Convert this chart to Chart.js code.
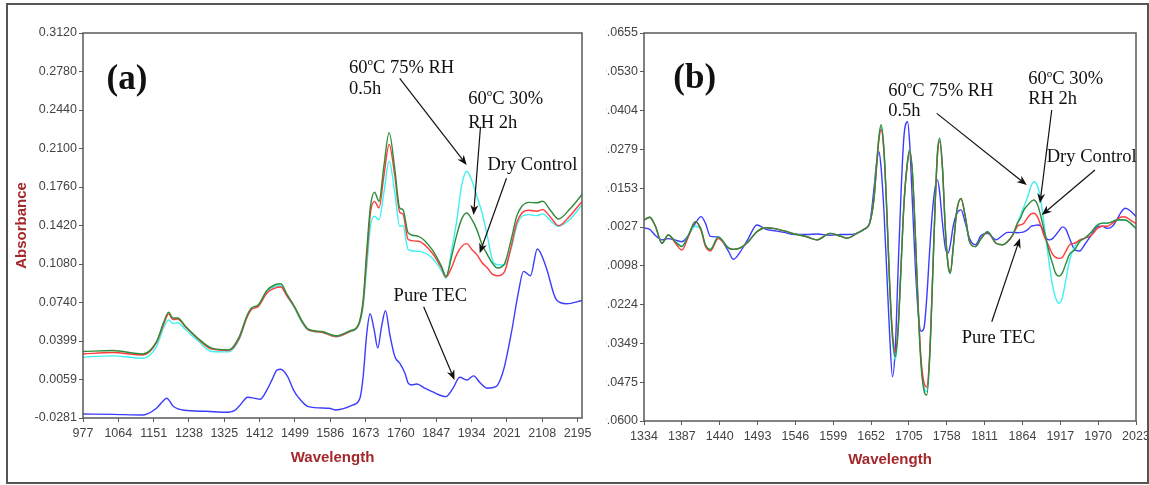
<!DOCTYPE html>
<html lang="en">
<head>
  <meta charset="UTF-8">
  <title>NIR spectra (a) and second derivative spectra (b)</title>
  <script src="https://cdn.jsdelivr.net/npm/chart.js"></script>
  <style>
    body {
      margin: 0;
      width: 1149px;
      height: 485px;
      background: #fff;
      position: relative;
      overflow: hidden;
    }
    #frame {
      position: absolute; left: 6px; top: 3px; width: 1143px; height: 481px;
      box-sizing: border-box; border: 2px solid #555; pointer-events: none; z-index: 5;
    }
    #boxA { position: absolute; left: 8px; top: 6px; }
    /* panel (b) is cropped on its left side, like the original figure */
    #clipB { position: absolute; left: 606px; top: 6px; width: 542px; height: 472px; overflow: hidden; }
    #boxB { position: absolute; left: -40px; top: 0; }
  </style>
</head>
<body>
  <div id="frame"></div>
  <canvas id="boxA" width="592" height="472"></canvas>
  <div id="clipB"><canvas id="boxB" width="584" height="472"></canvas></div>

  <script>
    // ---------- panel (a): absorbance spectra ----------
    const aXTicks = [977, 1064, 1151, 1238, 1325, 1412, 1499, 1586, 1673, 1760, 1847, 1934, 2021, 2108, 2195];
    const aYLabels = ['-0.0281', '0.0059', '0.0399', '0.0740', '0.1080', '0.1420', '0.1760', '0.2100', '0.2440', '0.2780', '0.3120'];

    const aWl = [977, 1050, 1124, 1158, 1175, 1188, 1198, 1210, 1230, 1260, 1294, 1336, 1362, 1380, 1392, 1409, 1430, 1450, 1464, 1480,
                 1498, 1515, 1532, 1566, 1600, 1634, 1655, 1667, 1676, 1685, 1695, 1706, 1718, 1731, 1745, 1757, 1765, 1778, 1803, 1837,
                 1860, 1871, 1885, 1897, 1910, 1922, 1935, 1947, 1960, 1973, 1985, 1998, 2015, 2032, 2045, 2058, 2075, 2095, 2109, 2130,
                 2148, 2175, 2206];
    // 60oC 30% RH 2h
    const aGreen = [0.0306, 0.0315, 0.0285, 0.0394, 0.0557, 0.0654, 0.0603, 0.0603, 0.0527, 0.0424, 0.0336, 0.0321, 0.0439, 0.0616, 0.0690, 0.0720, 0.0846, 0.0896, 0.0905, 0.0808,
                    0.0704, 0.0586, 0.0504, 0.0483, 0.0445, 0.0489, 0.0542, 0.0763, 0.1206, 0.1589, 0.1713, 0.1633, 0.1943, 0.2240, 0.1914, 0.1575, 0.1560, 0.1354, 0.1324, 0.1206,
                    0.1058, 0.0970, 0.1150, 0.1330, 0.1480, 0.1530, 0.1471, 0.1383, 0.1250, 0.1162, 0.1088, 0.1044, 0.1080, 0.1300, 0.1500, 0.1589, 0.1624, 0.1620, 0.1634, 0.1545,
                    0.1477, 0.1560, 0.1693];
    // Dry Control
    const aRed = [0.0285, 0.0297, 0.0276, 0.0385, 0.0540, 0.0640, 0.0589, 0.0594, 0.0521, 0.0418, 0.0327, 0.0315, 0.0424, 0.0601, 0.0677, 0.0705, 0.0823, 0.0867, 0.0876, 0.0793,
                  0.0698, 0.0580, 0.0498, 0.0477, 0.0439, 0.0483, 0.0536, 0.0734, 0.1137, 0.1530, 0.1633, 0.1575, 0.1855, 0.2135, 0.1855, 0.1537, 0.1520, 0.1294, 0.1280, 0.1177,
                  0.1044, 0.0964, 0.1050, 0.1160, 0.1235, 0.1259, 0.1206, 0.1162, 0.1090, 0.1044, 0.0990, 0.0976, 0.1010, 0.1240, 0.1442, 0.1530, 0.1554, 0.1546, 0.1560, 0.1486,
                  0.1418, 0.1500, 0.1633];
    // 60oC 75% RH 0.5h
    const aCyan = [0.0256, 0.0268, 0.0247, 0.0350, 0.0510, 0.0586, 0.0554, 0.0560, 0.0498, 0.0401, 0.0306, 0.0303, 0.0415, 0.0601, 0.0683, 0.0713, 0.0838, 0.0881, 0.0887, 0.0793,
                   0.0690, 0.0571, 0.0495, 0.0474, 0.0436, 0.0480, 0.0530, 0.0705, 0.1058, 0.1412, 0.1501, 0.1471, 0.1708, 0.1987, 0.1708, 0.1412, 0.1420, 0.1206, 0.1191, 0.1132,
                   0.1020, 0.0952, 0.1200, 0.1450, 0.1780, 0.1899, 0.1812, 0.1678, 0.1530, 0.1324, 0.1120, 0.1073, 0.1070, 0.1220, 0.1412, 0.1501, 0.1516, 0.1507, 0.1522, 0.1457,
                   0.1412, 0.1470, 0.1604];

    // Pure TEC
    const aWlTec = [977, 1050, 1124, 1158, 1172, 1183, 1200, 1226, 1280, 1328, 1350, 1362, 1383, 1398, 1413, 1430, 1443, 1455, 1464, 1481,
                    1495, 1506, 1532, 1583, 1600, 1642, 1659, 1667, 1676, 1684, 1694, 1703, 1712, 1722, 1733, 1745, 1757, 1770, 1778, 1786,
                    1799, 1820, 1837, 1862, 1871, 1888, 1905, 1922, 1939, 1955, 1973, 1994, 2005, 2015, 2032, 2049, 2062, 2079, 2096, 2117,
                    2143, 2168, 2206];
    const aTec = [-0.0246, -0.0249, -0.0254, -0.0195, -0.0140, -0.0107, -0.0180, -0.0213, -0.0222, -0.0230, -0.0215, -0.0175, -0.0098, -0.0105, -0.0116, -0.0033, 0.0060, 0.0144, 0.0150, 0.0085,
                  -0.0030, -0.0092, -0.0180, -0.0195, -0.0210, -0.0166, -0.0107, 0.0085, 0.0470, 0.0640, 0.0500, 0.0336, 0.0520, 0.0666, 0.0450, 0.0262, 0.0203, 0.0115, 0.0026, 0.0011,
                  0.0019, -0.0020, -0.0048, -0.0087, -0.0092, -0.0020, 0.0079, 0.0055, 0.0091, 0.0030, -0.0018, -0.0004, 0.0060, 0.0173, 0.0470, 0.0823, 0.1014, 0.0976, 0.1212, 0.1058,
                  0.0763, 0.0728, 0.0757];

    // ---------- panel (b): second derivative spectra ----------
    const bXTicks = [1334, 1387, 1440, 1493, 1546, 1599, 1652, 1705, 1758, 1811, 1864, 1917, 1970, 2023];
    const bYLabels = ['-0.0600', '-0.0475', '-0.0349', '-0.0224', '-0.0098', '0.0027', '0.0153', '0.0279', '0.0404', '0.0530', '0.0655'];

    const bWl = [1334, 1342, 1350, 1359, 1368, 1378, 1387, 1396, 1406, 1414, 1420, 1427, 1438, 1452, 1459, 1469, 1480, 1492, 1505, 1515,
                 1530, 1545, 1562, 1576, 1595, 1610, 1618, 1632, 1642, 1650, 1656, 1660, 1663, 1666, 1670, 1674, 1678, 1682, 1686, 1690,
                 1694, 1698, 1703, 1706, 1710, 1714, 1718, 1722, 1726, 1730, 1734, 1738, 1742, 1745, 1748, 1752, 1756, 1760, 1763, 1767,
                 1772, 1778, 1784, 1790, 1798, 1806, 1815, 1827, 1836, 1843, 1850, 1857, 1862, 1866, 1872, 1876, 1880, 1885, 1890, 1894,
                 1898, 1902, 1906, 1910, 1915, 1920, 1925, 1930, 1937, 1944, 1951, 1960, 1969, 1976, 1983, 1990, 1996, 2002, 2008, 2015,
                 2023];
    const bGreen = [0.0050, 0.0059, 0.0030, -0.0025, 0.0002, -0.0020, -0.0036, 0.0000, 0.0045, 0.0020, -0.0030, -0.0045, -0.0005, -0.0040, -0.0045, -0.0040, -0.0020, 0.0012, 0.0025, 0.0023,
                    0.0015, 0.0005, -0.0004, -0.0014, 0.0007, -0.0003, -0.0009, 0.0007, 0.0020, 0.0040, 0.0120, 0.0240, 0.0320, 0.0358, 0.0280, 0.0080, -0.0160, -0.0330, -0.0392, -0.0300,
                    -0.0100, 0.0100, 0.0240, 0.0277, 0.0200, 0.0000, -0.0240, -0.0420, -0.0500, -0.0516, -0.0400, -0.0150, 0.0120, 0.0270, 0.0315, 0.0220, 0.0020, -0.0100, -0.0122, -0.0040,
                    0.0080, 0.0120, 0.0060, -0.0020, -0.0036, -0.0010, 0.0012, -0.0025, -0.0030, -0.0020, 0.0000, 0.0040, 0.0060, 0.0083, 0.0100, 0.0110, 0.0115, 0.0100, 0.0060, 0.0020,
                    -0.0020, -0.0060, -0.0090, -0.0120, -0.0131, -0.0120, -0.0090, -0.0060, -0.0047, -0.0020, -0.0009, 0.0010, 0.0034, 0.0040, 0.0040, 0.0045, 0.0050, 0.0050, 0.0050, 0.0040,
                    0.0023];
    const bRed = [0.0050, 0.0059, 0.0030, -0.0025, 0.0002, -0.0025, -0.0047, -0.0005, 0.0045, 0.0015, -0.0035, -0.0050, -0.0010, -0.0040, -0.0045, -0.0040, -0.0020, 0.0012, 0.0025, 0.0023,
                  0.0015, 0.0005, -0.0004, -0.0014, 0.0007, -0.0003, -0.0009, 0.0007, 0.0020, 0.0040, 0.0115, 0.0230, 0.0310, 0.0342, 0.0270, 0.0080, -0.0150, -0.0315, -0.0376, -0.0290,
                  -0.0095, 0.0100, 0.0235, 0.0270, 0.0195, 0.0000, -0.0230, -0.0400, -0.0475, -0.0490, -0.0385, -0.0145, 0.0115, 0.0260, 0.0305, 0.0215, 0.0020, -0.0095, -0.0118, -0.0040,
                  0.0078, 0.0118, 0.0060, -0.0020, -0.0036, -0.0010, 0.0010, -0.0025, -0.0030, -0.0020, 0.0000, 0.0030, 0.0035, 0.0040, 0.0060, 0.0070, 0.0072, 0.0060, 0.0030, 0.0000,
                  -0.0020, -0.0040, -0.0060, -0.0070, -0.0074, -0.0070, -0.0050, -0.0030, -0.0025, -0.0015, -0.0009, 0.0000, 0.0023, 0.0030, 0.0030, 0.0040, 0.0050, 0.0060, 0.0060, 0.0050,
                  0.0039];
    const bCyan = [0.0050, 0.0059, 0.0030, -0.0025, 0.0002, -0.0020, -0.0034, 0.0000, 0.0030, 0.0018, -0.0030, -0.0045, -0.0005, -0.0040, -0.0045, -0.0040, -0.0020, 0.0012, 0.0025, 0.0023,
                   0.0015, 0.0005, -0.0004, -0.0014, 0.0007, -0.0003, -0.0009, 0.0007, 0.0020, 0.0040, 0.0118, 0.0235, 0.0315, 0.0350, 0.0275, 0.0080, -0.0160, -0.0335, -0.0403, -0.0305,
                   -0.0100, 0.0100, 0.0238, 0.0275, 0.0200, 0.0000, -0.0235, -0.0410, -0.0490, -0.0505, -0.0395, -0.0150, 0.0120, 0.0270, 0.0315, 0.0220, 0.0020, -0.0100, -0.0122, -0.0040,
                   0.0080, 0.0120, 0.0060, -0.0020, -0.0036, -0.0010, 0.0012, -0.0025, -0.0030, -0.0020, 0.0000, 0.0040, 0.0070, 0.0093, 0.0130, 0.0160, 0.0174, 0.0160, 0.0110, 0.0040,
                   -0.0030, -0.0100, -0.0160, -0.0200, -0.0219, -0.0200, -0.0140, -0.0080, -0.0036, -0.0015, -0.0009, 0.0010, 0.0034, 0.0040, 0.0040, 0.0045, 0.0050, 0.0050, 0.0050, 0.0040,
                   0.0020];
    const bBlue = [0.0024, 0.0020, 0.0000, -0.0014, -0.0010, -0.0015, -0.0020, 0.0000, 0.0040, 0.0061, 0.0040, -0.0003, -0.0005, -0.0050, -0.0077, -0.0052, -0.0010, 0.0034, 0.0020, 0.0016,
                   0.0010, 0.0003, 0.0003, 0.0005, 0.0001, 0.0003, 0.0003, 0.0007, 0.0020, 0.0040, 0.0150, 0.0240, 0.0271, 0.0220, 0.0080, -0.0120, -0.0320, -0.0457, -0.0360, -0.0100,
                   0.0140, 0.0320, 0.0368, 0.0300, 0.0100, -0.0100, -0.0250, -0.0310, -0.0300, -0.0200, -0.0050, 0.0080, 0.0160, 0.0180, 0.0140, 0.0040, -0.0040, -0.0057, -0.0030, 0.0030,
                   0.0070, 0.0083, 0.0040, -0.0010, -0.0030, 0.0000, 0.0007, -0.0014, 0.0000, 0.0010, 0.0010, 0.0009, 0.0010, 0.0012, 0.0020, 0.0030, 0.0032, 0.0034, 0.0030, 0.0010,
                   -0.0010, -0.0014, -0.0010, 0.0000, 0.0015, 0.0028, 0.0020, -0.0010, -0.0045, -0.0050, -0.0030, 0.0000, 0.0029, 0.0030, 0.0023, 0.0030, 0.0050, 0.0075, 0.0088, 0.0080,
                   0.0061];

    // callouts, placed in data units (wavelength, value)
    const aNotes = [
      ['(a)', 1035, 0.2705, 'big'],
      ['60{o}C 75% RH', 1632, 0.2811], ['0.5h', 1632, 0.2625],
      ['60{o}C 30%', 1926, 0.2537], ['RH 2h', 1926, 0.2325],
      ['Dry Control', 1973, 0.1954],
      ['Pure TEC', 1742, 0.0792]
    ];
    const aArrows = [
      [1757, 0.2720, 1922, 0.1954],
      [1956, 0.2292, 1939, 0.1512],
      [2020, 0.1837, 1954, 0.1174],
      [1816, 0.0702, 1892, 0.0055]
    ];
    const bNotes = [
      ['(b)', 1375, 0.0506, 'big'],
      ['60{o}C 75% RH', 1676, 0.0468], ['0.5h', 1676, 0.0403],
      ['60{o}C 30%', 1872, 0.0505], ['RH 2h', 1872, 0.0440],
      ['Dry Control', 1898, 0.0254],
      ['Pure TEC', 1779, -0.0332]
    ];
    const bArrows = [
      [1744, 0.0395, 1870, 0.0163],
      [1905, 0.0406, 1888.5, 0.0104],
      [1965.5, 0.0212, 1891, 0.0066],
      [1821, -0.0279, 1860.5, -0.0009]
    ];

    const SANS = "'Liberation Sans', Arial, sans-serif";
    const SERIF = "'Liberation Serif', 'Times New Roman', serif";
    const TITLE_RED = '#a3282b';
    const GREEN = '#2e8b3a', RED = '#ff3b3b', CYAN = '#3ff0f0', BLUE = '#3c3cff';

    function pts(xs, ys) {
      return xs.map((x, i) => ({ x: x, y: ys[i] }));
    }

    // "60{o}C" -> small raised o
    function richText(ctx, str, x, y, size) {
      let cx = x;
      str.split(/(\{o\})/).forEach(p => {
        if (!p) return;
        if (p === '{o}') {
          ctx.font = Math.round(size * 0.62) + 'px ' + SERIF;
          ctx.fillText('o', cx, y - size * 0.3);
          cx += ctx.measureText('o').width;
        } else {
          ctx.font = size + 'px ' + SERIF;
          ctx.fillText(p, cx, y);
          cx += ctx.measureText(p).width;
        }
      });
    }

    function arrow(ctx, x1, y1, x2, y2) {
      const ang = Math.atan2(y2 - y1, x2 - x1);
      const len = 10, half = 4;
      ctx.beginPath();
      ctx.moveTo(x1, y1);
      ctx.lineTo(x2 - Math.cos(ang) * len * 0.7, y2 - Math.sin(ang) * len * 0.7);
      ctx.stroke();
      ctx.beginPath();
      ctx.moveTo(x2, y2);
      ctx.lineTo(x2 - Math.cos(ang) * len + Math.sin(ang) * half, y2 - Math.sin(ang) * len - Math.cos(ang) * half);
      ctx.lineTo(x2 - Math.cos(ang) * len * 0.7, y2 - Math.sin(ang) * len * 0.7);
      ctx.lineTo(x2 - Math.cos(ang) * len - Math.sin(ang) * half, y2 - Math.sin(ang) * len + Math.cos(ang) * half);
      ctx.closePath();
      ctx.fill();
    }

    const framePlugin = {
      id: 'frameAndNotes',
      afterDatasetsDraw(chart, args, opts) {
        const ctx = chart.ctx, a = chart.chartArea;
        const sx = chart.scales.x, sy = chart.scales.y;
        ctx.save();
        ctx.strokeStyle = '#5a5a5a';
        ctx.lineWidth = 1.5;
        ctx.strokeRect(a.left, a.top, a.right - a.left, a.bottom - a.top);

        ctx.fillStyle = '#111';
        ctx.strokeStyle = '#111';
        ctx.lineWidth = 1.2;
        ctx.textBaseline = 'middle';
        ctx.textAlign = 'left';
        opts.notes.forEach(n => {
          const px = sx.getPixelForValue(n[1]), py = sy.getPixelForValue(n[2]);
          if (n[3] === 'big') {
            ctx.font = 'bold 35px ' + SERIF;
            ctx.fillText(n[0], px, py);
          } else {
            richText(ctx, n[0], px, py, 18.5);
          }
        });
        opts.arrows.forEach(r => {
          arrow(ctx, sx.getPixelForValue(r[0]), sy.getPixelForValue(r[1]),
                sx.getPixelForValue(r[2]), sy.getPixelForValue(r[3]));
        });
        ctx.restore();
      }
    };

    function makePanel(id, p) {
      const step = (p.yMax - p.yMin) / (p.yLabels.length - 1);
      const scaleGrid = { display: true, drawOnChartArea: false, drawTicks: true, tickLength: 4, color: '#5a5a5a' };
      return new Chart(document.getElementById(id), {
        type: 'line',
        data: {
          datasets: p.sets.map(s => ({
            data: pts(s.wl, s.vals),
            borderColor: s.color,
            borderWidth: 1.4,
            pointRadius: 0,
            fill: false,
            cubicInterpolationMode: 'monotone'
          }))
        },
        options: {
          responsive: false,
          animation: false,
          layout: { padding: { left: 0, top: p.padTop, right: p.padRight, bottom: 0 } },
          plugins: {
            legend: { display: false },
            tooltip: { enabled: false },
            frameAndNotes: { notes: p.notes, arrows: p.arrows }
          },
          scales: {
            x: {
              type: 'linear',
              min: p.xMin,
              max: p.xMax,
              grid: scaleGrid,
              border: { display: false },
              afterBuildTicks: s => { s.ticks = p.xTicks.map(v => ({ value: v })); },
              afterFit: s => { s.height = p.xAxisH; s.paddingLeft = 0; s.paddingRight = 0; },
              ticks: {
                maxRotation: 0, autoSkip: false, padding: 4,
                color: '#444', font: { family: SANS, size: 12.5 },
                callback: v => String(v)
              },
              title: {
                display: true, text: 'Wavelength', color: TITLE_RED,
                font: { family: SANS, size: 15, weight: 'bold' },
                padding: { top: 0, bottom: p.xTitlePad }
              }
            },
            y: {
              min: p.yMin,
              max: p.yMax,
              grid: scaleGrid,
              border: { display: false },
              afterBuildTicks: s => { s.ticks = p.yLabels.map((l, i) => ({ value: p.yMin + i * step })); },
              afterFit: s => { s.width = p.yAxisW; s.paddingTop = 0; s.paddingBottom = 0; },
              ticks: {
                autoSkip: false, padding: 2,
                color: '#444', font: { family: SANS, size: 12.5 },
                callback: (v, i) => p.yLabels[i]
              },
              title: {
                display: !!p.yTitle, text: p.yTitle || '', color: TITLE_RED,
                font: { family: SANS, size: 15, weight: 'bold' },
                padding: { top: 5, bottom: 0 }
              }
            }
          }
        },
        plugins: [framePlugin]
      });
    }

    makePanel('boxA', {
      sets: [
        { wl: aWl, vals: aGreen, color: GREEN },
        { wl: aWl, vals: aRed, color: RED },
        { wl: aWl, vals: aCyan, color: CYAN },
        { wl: aWlTec, vals: aTec, color: BLUE }
      ],
      xMin: 977, xMax: 2206, xTicks: aXTicks,
      yMin: -0.0281, yMax: 0.3120, yLabels: aYLabels,
      yAxisW: 75, xAxisH: 60, padTop: 27, padRight: 18, xTitlePad: 11,
      yTitle: 'Absorbance',
      notes: aNotes, arrows: aArrows
    });

    makePanel('boxB', {
      sets: [
        { wl: bWl, vals: bGreen, color: GREEN },
        { wl: bWl, vals: bRed, color: RED },
        { wl: bWl, vals: bCyan, color: CYAN },
        { wl: bWl, vals: bBlue, color: BLUE }
      ],
      xMin: 1334, xMax: 2023, xTicks: bXTicks,
      yMin: -0.0600, yMax: 0.0655, yLabels: bYLabels,
      yAxisW: 78, xAxisH: 57, padTop: 27, padRight: 14, xTitlePad: 9,
      yTitle: '',
      notes: bNotes, arrows: bArrows
    });
  </script>
</body>
</html>
